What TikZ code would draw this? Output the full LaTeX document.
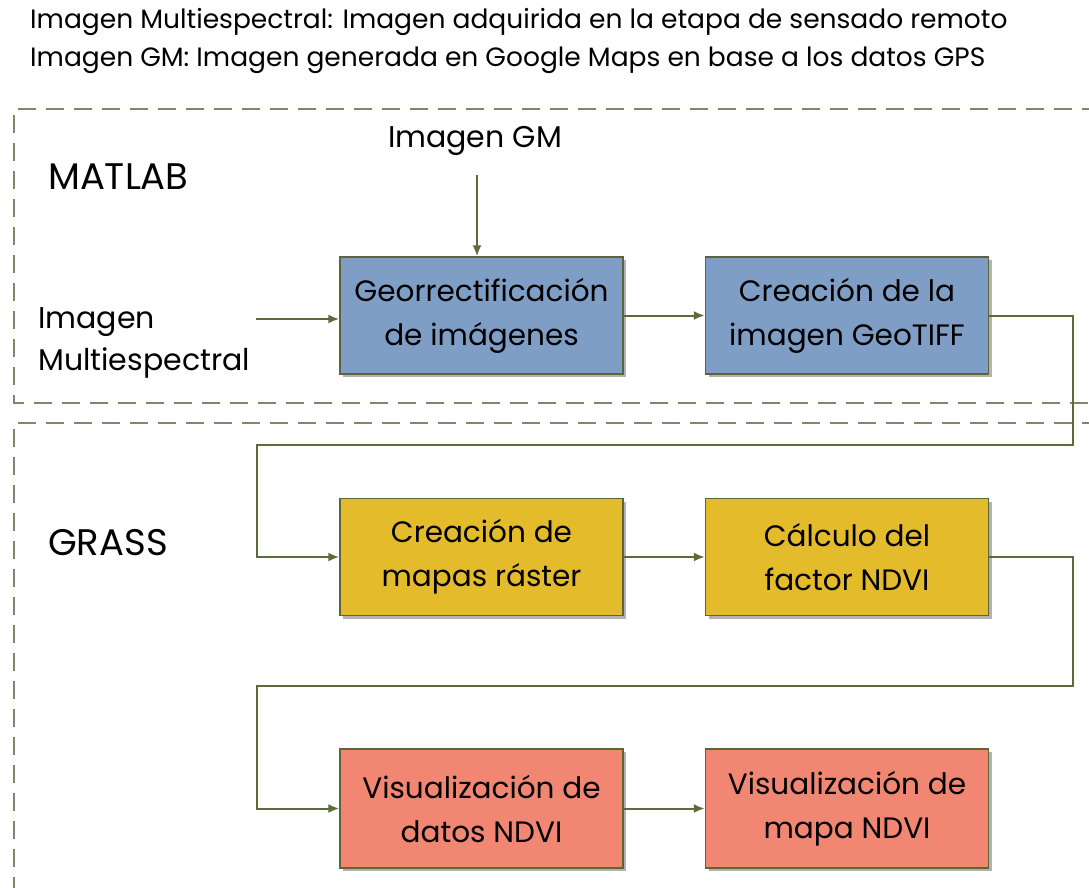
\documentclass[tikz,border=0pt]{standalone}
\usepackage{fontspec}
\setmainfont{Poppins}
\usetikzlibrary{arrows.meta,shadows}
\definecolor{lineC}{HTML}{5B6B3A}
\definecolor{dashC}{HTML}{7E876A}
\definecolor{blueF}{HTML}{7F9EC6}
\definecolor{yelF}{HTML}{E4BB2B}
\definecolor{redF}{HTML}{F18672}
\definecolor{boxB}{HTML}{5A6636}
\begin{document}
\begin{tikzpicture}[x=1pt,y=-1pt,
  procbox/.style={draw=boxB, line width=1.5pt, minimum width=283pt, minimum height=117pt,
    inner sep=0pt, align=center, font=\fontsize{29.5}{44}\selectfont,
    drop shadow={shadow xshift=3pt, shadow yshift=-3pt, opacity=0.3, fill=black}},
  conn/.style={draw=lineC, line width=2pt},
  arr/.style={conn, -{Latex[length=11pt,width=9pt]}},
  region/.style={draw=dashC, line width=2.5pt, dash pattern=on 18pt off 10pt},
  lbl/.style={inner sep=0pt, font=\fontsize{30}{42}\selectfont},
  grp/.style={inner sep=0pt, anchor=west, font=\fontsize{37}{42}\selectfont},
  title/.style={inner sep=0pt, anchor=west, font=\fontsize{26.5}{38}\selectfont}
]
\useasboundingbox (0,0) rectangle (1089,888);
\clip (0,0) rectangle (1089,888);
\fill[white] (0,0) rectangle (1089,888);

% title lines
\node[title] (t1) at (30,22) {Imagen Multiespectral: Imagen adquirida en la etapa de sensado remoto};
\node[title] (t2) at (30,60) {Imagen GM: Imagen generada en Google Maps en base a los datos GPS};

% regions
\draw[region] (1100,109) -- (14,109) -- (14,403) -- (1100,403);
\draw[region] (1100,423) -- (14,423) -- (14,900);

\node[grp] (matlab) at (48,177) {MATLAB};
\node[grp] (grass) at (48,543) {GRASS};

% boxes
\node[procbox, fill=blueF] (b1) at (481.5,315.5) {Georrectificación\\de imágenes};
\node[procbox, fill=blueF] (b2) at (847,315.5) {Creación de la\\imagen GeoTIFF};
\node[procbox, fill=yelF] (b3) at (481.5,557) {Creación de\\mapas ráster};
\node[procbox, fill=yelF] (b4) at (847,557) {Cálculo del\\factor NDVI};
\node[procbox, fill=redF, minimum height=119pt] (b5) at (481.5,808.5) {Visualización de\\datos NDVI};
\node[procbox, fill=redF, minimum height=119pt] (b6) at (847,808.5) {Visualización de\\mapa NDVI};

% inputs
\node[lbl] (gm) at (475,141) {Imagen GM};
\node[lbl, anchor=west, align=left] (ms) at (38,343) {Imagen\\Multiespectral};
\coordinate (gmEnd) at (477,175);
\coordinate (msEnd) at (256,319);

\draw[arr] (gmEnd) -- (gmEnd |- b1.north);
\draw[arr] (msEnd) -- (msEnd -| b1.west);
\draw[arr] (b1.east) -- (b2.west);
\draw[arr] (b3.east) -- (b4.west);
\draw[arr] (b5.east) -- (b6.west);

% loop connectors
\coordinate (r1) at (1073,445);
\coordinate (l1) at (257,445);
\coordinate (r2) at (1073,686);
\coordinate (l2) at (257,686);
\draw[arr] (b2.east) -| (r1) -- (l1) |- (b3.west);
\draw[arr] (b4.east) -| (r2) -- (l2) |- (b5.west);
\end{tikzpicture}
\end{document}
